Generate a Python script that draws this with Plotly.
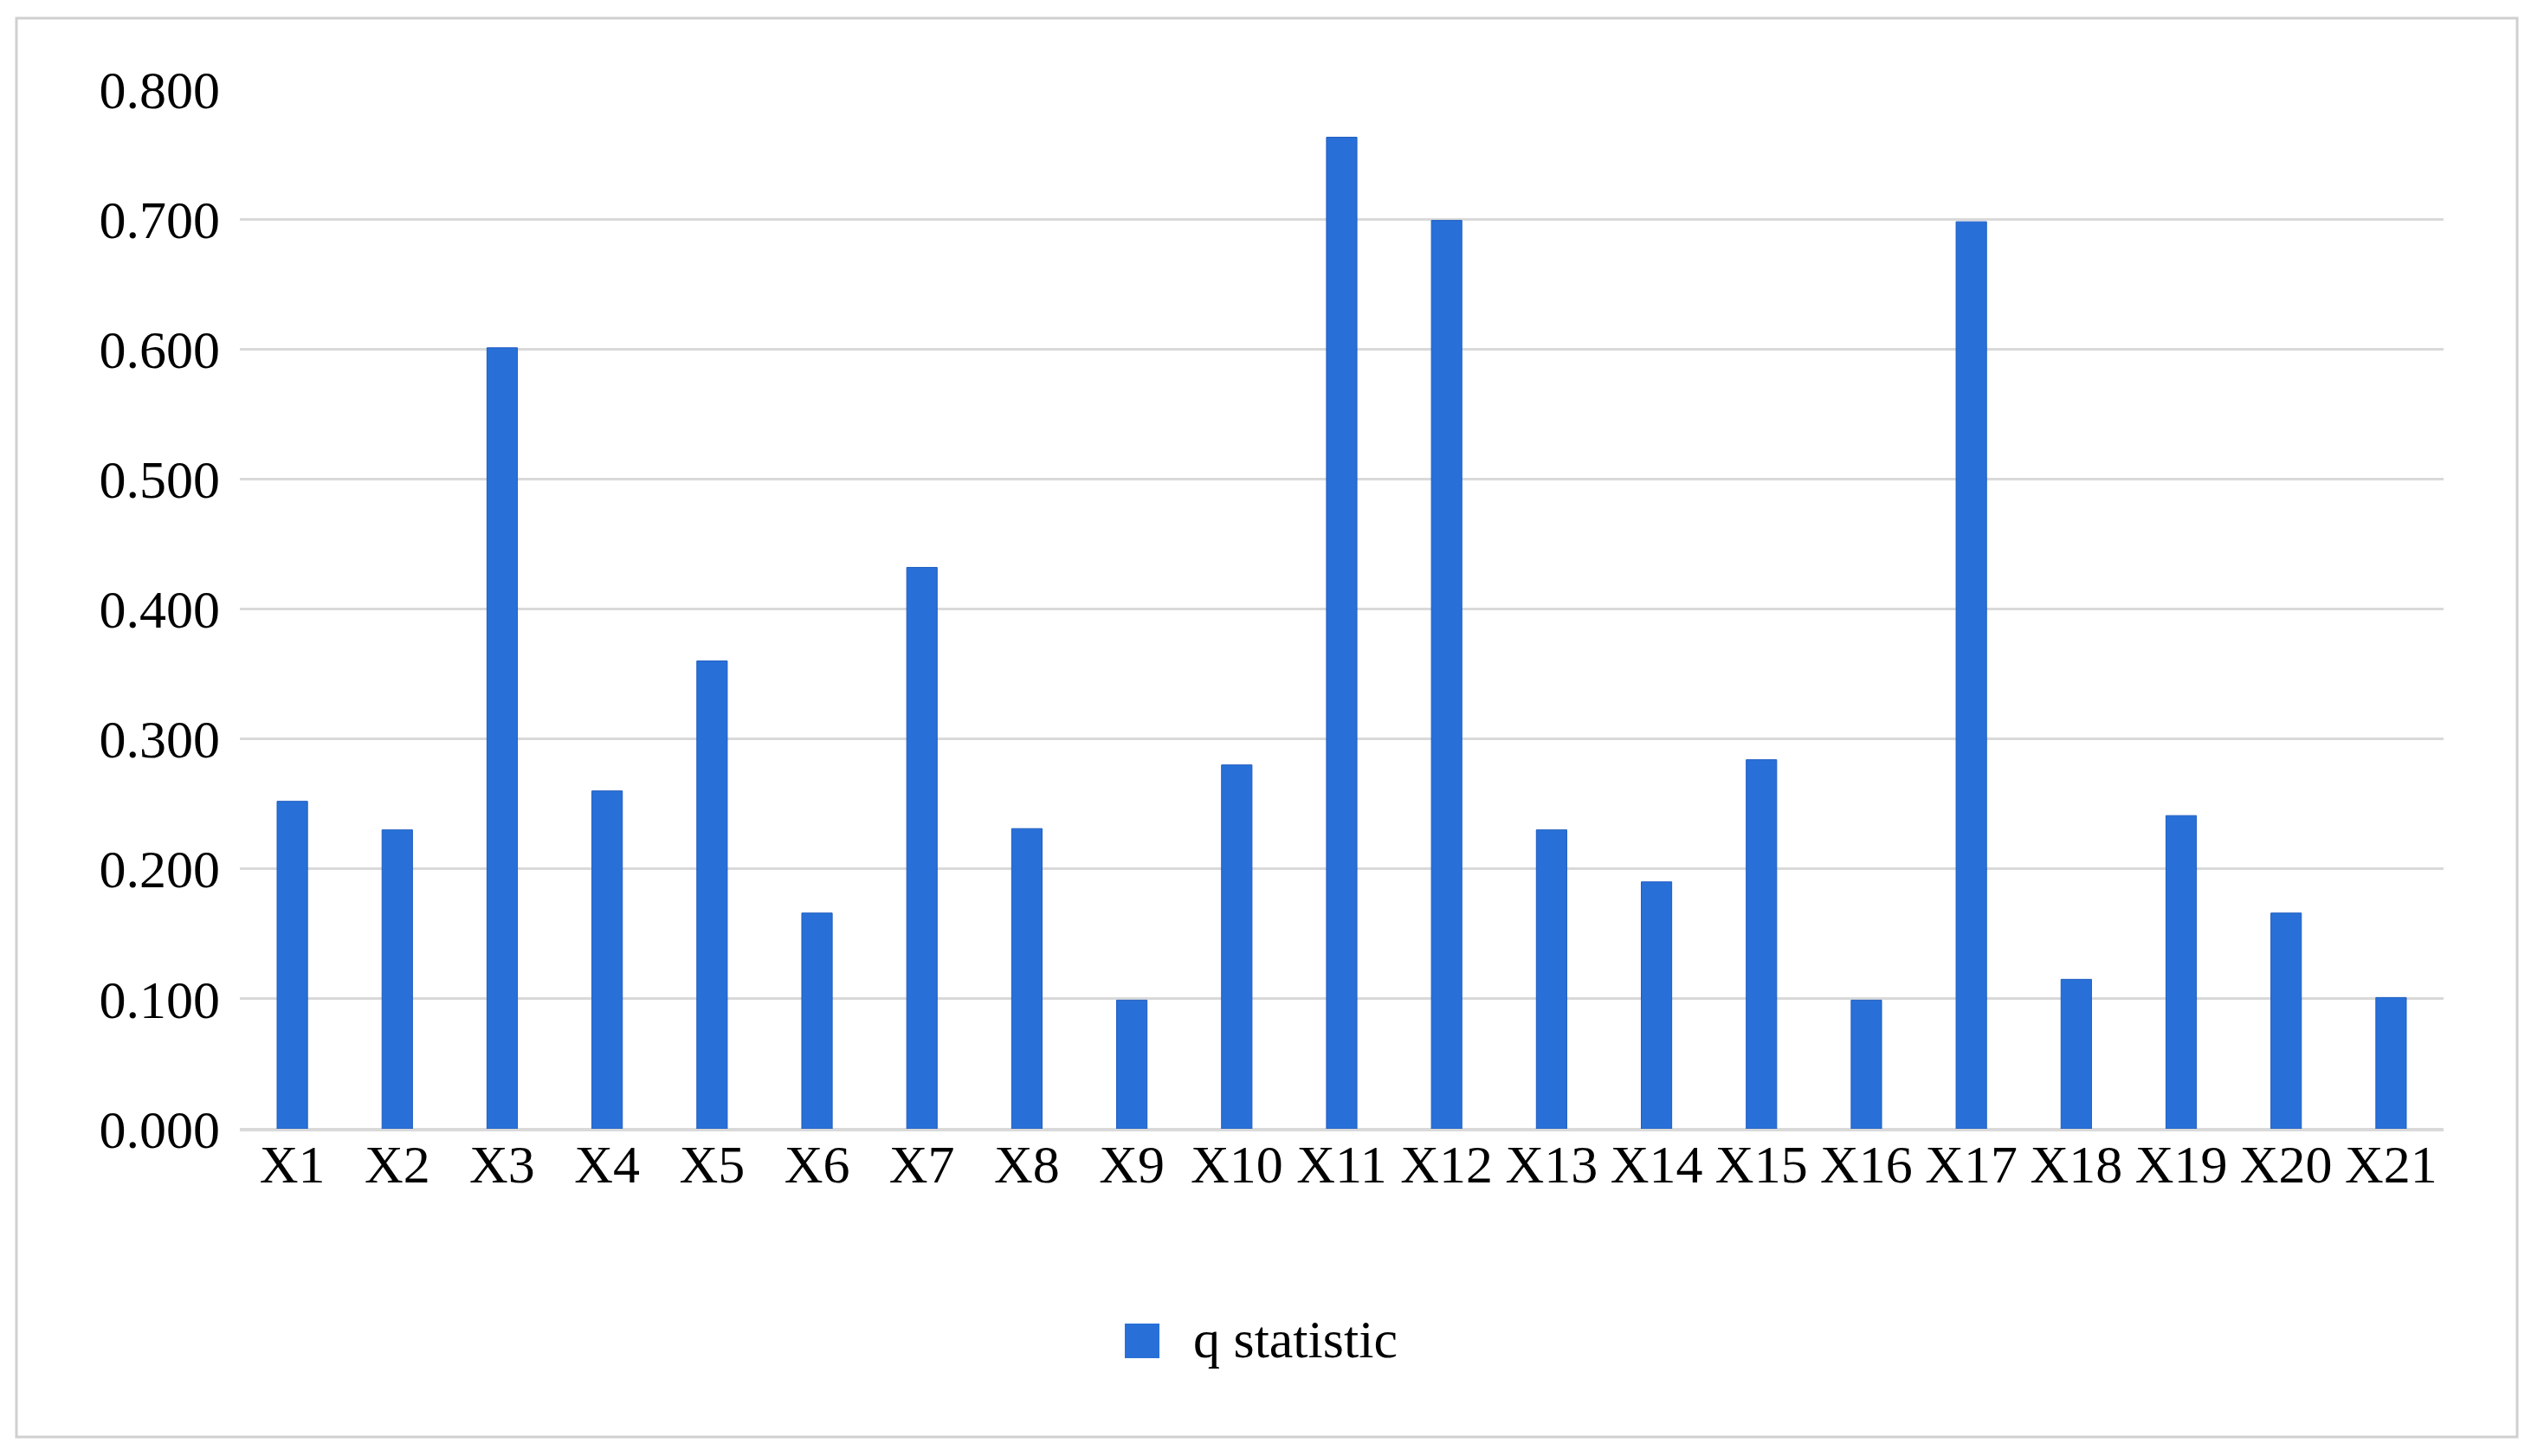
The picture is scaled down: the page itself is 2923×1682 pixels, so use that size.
import plotly.graph_objects as go

categories = [f"X{i}" for i in range(1, 22)]
q_values = [0.252, 0.230, 0.601, 0.260, 0.360, 0.166, 0.432, 0.231, 0.099, 0.280,
            0.763, 0.699, 0.230, 0.190, 0.284, 0.099, 0.698, 0.115, 0.241, 0.166, 0.101]
series_name = "q statistic"
y_ticks = [0.0, 0.1, 0.2, 0.3, 0.4, 0.5, 0.6, 0.7, 0.8]

BAR_COLOR = "#2870d8"
GRID = "#d9d9d9"
FONT = "Liberation Serif, Times New Roman, serif"

OFF = 8  # default browser body margin
PAGE_W, PAGE_H = 2923, 1682
W, H = PAGE_W - 2 * OFF, PAGE_H - 2 * OFF
# plot area in page pixels: x 277..2822, y 103..1304
L = 277 - OFF
T = 103 - OFF
R = W - (2822 - OFF)
B = H - (1304 - OFF)
pw, ph = W - L - R, H - T - B

def px_to_paper_x(px):
    return (px - OFF - L) / pw

def px_to_paper_y(py):
    return (H - B - (py - OFF)) / ph

fig = go.Figure()
fig.add_trace(go.Bar(
    x=categories, y=q_values, name=series_name,
    marker=dict(color=BAR_COLOR, line=dict(color="#1f5cc0", width=1)),
    showlegend=False,
))

# outer border
fig.add_shape(type="rect", xref="paper", yref="paper",
              x0=px_to_paper_x(19), x1=px_to_paper_x(2907),
              y0=px_to_paper_y(1660), y1=px_to_paper_y(21),
              line=dict(color="#d0d0d0", width=3), fillcolor="rgba(0,0,0,0)", layer="below")

# legend swatch + label
fig.add_shape(type="rect", xref="paper", yref="paper",
              x0=px_to_paper_x(1299), x1=px_to_paper_x(1339),
              y0=px_to_paper_y(1569), y1=px_to_paper_y(1529),
              line=dict(width=0), fillcolor=BAR_COLOR)
fig.add_annotation(xref="paper", yref="paper", x=px_to_paper_x(1376), y=px_to_paper_y(1547),
                   text=series_name, showarrow=False, xanchor="left", yanchor="middle",
                   font=dict(family=FONT, size=62, color="#000000"))

fig.update_layout(
    width=W, height=H,
    margin=dict(l=L, r=R, t=T, b=B),
    paper_bgcolor="white", plot_bgcolor="white",
    bargap=0.71,
    font=dict(family=FONT, size=62, color="#000000"),
)
fig.update_xaxes(
    showgrid=False, showline=True, linecolor=GRID, linewidth=3,
    tickfont=dict(family=FONT, size=62, color="#000000"),
    ticklabelstandoff=-15,
)
fig.update_yaxes(
    range=[0, 0.8], tickvals=y_ticks, tickformat=".3f",
    showgrid=True, gridcolor=GRID, gridwidth=3,
    zeroline=True, zerolinecolor=GRID, zerolinewidth=3,
    showline=False,
    tickfont=dict(family=FONT, size=62, color="#000000"),
    ticklabelstandoff=22,
)

fig.write_html("out.html")
